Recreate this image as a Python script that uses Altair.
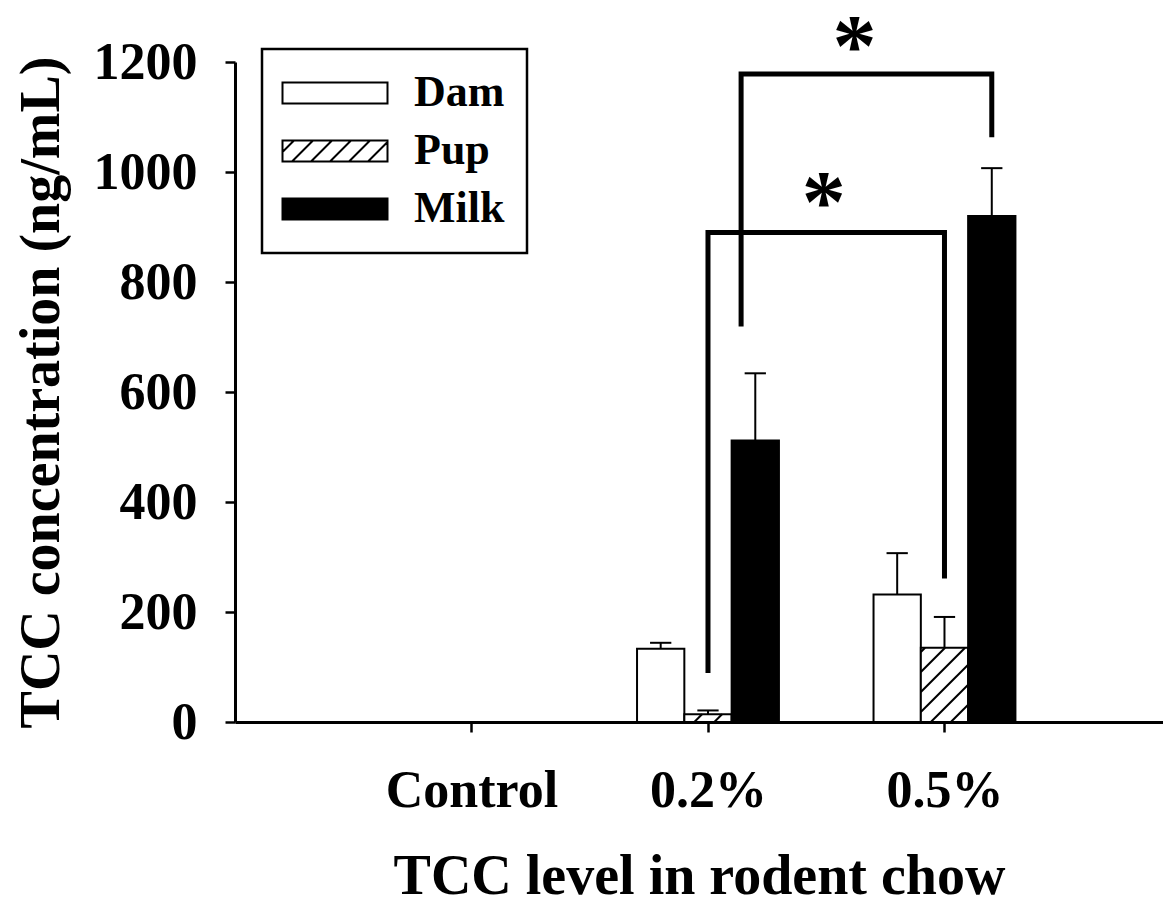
import math
import altair as alt
import pandas as pd

# ---------------- data ----------------
groups = ["Control", "0.2%", "0.5%"]
group_pos = [1, 2, 3]
series = ["Dam", "Pup", "Milk"]
series_offset = [-0.2, 0.0, 0.2]
dam_mean = [0, 133, 232]
dam_err = [0, 11, 75]
pup_mean = [0, 14, 135]
pup_err = [0, 7, 56]
milk_mean = [0, 512, 920]
milk_err = [0, 122, 87]

bracket_id = ["a", "a", "a", "a", "b", "b", "b", "b"]
bracket_order = [0, 1, 2, 3, 0, 1, 2, 3]
bracket_x = [2.0, 2.0, 3.0, 3.0, 2.14, 2.14, 3.2, 3.2]
bracket_y = [89, 890, 890, 261, 719, 1178, 1178, 1063]
star_x = [2.49, 2.62]
star_y = [970, 1252]

# ---------------- layout / style ----------------
W, H = 928, 660
XMAX = 3.924
YMAX = 1200
BAR_W = 0.2
CAP_HALF = 0.045
FONT = "Liberation Serif"
PXX = W / XMAX
PXY = H / YMAX
HATCH_STEP = 20

means = {"Dam": dam_mean, "Pup": pup_mean, "Milk": milk_mean}
errs = {"Dam": dam_err, "Pup": pup_err, "Milk": milk_err}

rows = []
for s, off in zip(series, series_offset):
    for g, p, m, e in zip(groups, group_pos, means[s], errs[s]):
        c = p + off
        rows.append(dict(group=g, series=s, x0=c - BAR_W / 2, x1=c + BAR_W / 2, cx=c,
                         capl=c - CAP_HALF, capr=c + CAP_HALF,
                         base=0, value=m, top=m + e))
df = pd.DataFrame(rows)
df_err = df[df["value"] > 0]


def hatch(w, h, step):
    segs = []
    a = -step * math.ceil(h / step) + step * 0.5
    while a < w:
        xa, xb = max(0.0, a), min(w, a + h)
        if xb > xa:
            segs.append((xa, xa - a, xb, xb - a))
        a += step
    return segs


hrows = []
for _, r in df[(df["series"] == "Pup") & (df["value"] > 0)].iterrows():
    wpx = (r.x1 - r.x0) * PXX
    hpx = r.value * PXY
    for i, (xa, ya, xb, yb) in enumerate(hatch(wpx, hpx, HATCH_STEP)):
        hrows.append(dict(xa=r.x0 + xa / PXX, ya=ya / PXY, xb=r.x0 + xb / PXX, yb=yb / PXY))
df_hatch = pd.DataFrame(hrows)

# legend symbol paths: symbol "size" is the swatch height squared,
# so 1 path unit = half the swatch height
SW, SH = 105, 21
u = SH / 2
hw, hh = SW / 2 / u, 1.0
rect_path = f"M{-hw:.4f},{-hh:.4f}H{hw:.4f}V{hh:.4f}H{-hw:.4f}Z"
hp = []
for xa, ya, xb, yb in hatch(SW, SH, 19):
    hp.append(f"M{xa/u-hw:.4f},{hh - ya/u:.4f}L{xb/u-hw:.4f},{hh - yb/u:.4f}")
hatch_path = rect_path + "".join(hp)

df_br = pd.DataFrame(dict(id=bracket_id, ord=bracket_order, x=bracket_x, y=bracket_y))
df_star = pd.DataFrame(dict(x=star_x, y=star_y))

label_expr = " : ".join(
    f"datum.value == {p} ? '{g}'" for p, g in zip(group_pos, groups)) + " : ''"

xscale = alt.Scale(domain=[0, XMAX], nice=False, zero=False)
yscale = alt.Scale(domain=[0, YMAX], nice=False)

xaxis = alt.Axis(values=group_pos, labelExpr=label_expr, title="TCC level in rodent chow",
                 grid=False, tickSize=10, tickWidth=2.5, domainWidth=3, domainColor="black",
                 tickColor="black", labelFont=FONT, labelFontWeight="bold", labelFontSize=52,
                 labelColor="black", labelPadding=33, titleFont=FONT, titleFontWeight="bold",
                 titleFontSize=56, titleColor="black", titlePadding=33)
yaxis = alt.Axis(values=list(range(0, YMAX + 1, 200)), format="d",
                 title="TCC concentration (ng/mL)",
                 grid=False, tickSize=10, tickWidth=2.5, domainWidth=3, domainColor="black",
                 tickColor="black", labelFont=FONT, labelFontWeight="bold", labelFontSize=52,
                 labelColor="black", labelPadding=28, titleFont=FONT, titleFontWeight="bold",
                 titleFontSize=56, titleColor="black", titlePadding=23)

shape_expr = f"datum.value == 'Pup' ? '{hatch_path}' : '{rect_path}'"

legend = alt.Legend(title=None, orient="none", legendX=27, legendY=-13,
                    symbolType=alt.ExprRef(expr=shape_expr), symbolSize=SH * SH,
                    symbolOffset=29,
                    symbolStrokeColor="black", symbolStrokeWidth=2,
                    labelFont=FONT, labelFontWeight="bold", labelFontSize=44,
                    labelColor="black", labelOffset=57, padding=22, rowPadding=14,
                    strokeColor="black")

bars = alt.Chart(df).mark_rect(stroke="black", strokeWidth=2).encode(
    x=alt.X("x0:Q", scale=xscale, axis=xaxis),
    x2="x1:Q",
    y=alt.Y("base:Q", scale=yscale, axis=yaxis),
    y2="value:Q",
    fill=alt.Fill("series:N", scale=alt.Scale(domain=series, range=["white", "white", "black"]),
                  legend=legend),
)

hatch_layer = alt.Chart(df_hatch).mark_rule(color="black", strokeWidth=2).encode(
    x="xa:Q", y="ya:Q", x2="xb:Q", y2="yb:Q")

err_rule = alt.Chart(df_err).mark_rule(color="black", strokeWidth=2).encode(
    x="cx:Q", y="value:Q", y2="top:Q")
err_cap = alt.Chart(df_err).mark_rule(color="black", strokeWidth=2).encode(
    x="capl:Q", x2="capr:Q", y="top:Q")

brackets = alt.Chart(df_br).mark_line(color="black", strokeWidth=5, strokeJoin="miter",
                                      clip=False).encode(
    x="x:Q", y="y:Q", detail="id:N", order="ord:Q")

stars = alt.Chart(df_star).mark_text(text="*", font=FONT, fontWeight="bold", fontSize=88,
                                     color="black", baseline="middle", dy=16).encode(
    x="x:Q", y="y:Q")

chart = alt.layer(bars, hatch_layer, err_rule, err_cap, brackets, stars).properties(
    width=W, height=H,
    autosize=alt.AutoSizeParams(type="none"),
    padding={"left": 227, "top": 54, "right": 0, "bottom": 200},
).configure_view(stroke=None).configure_legend(strokeWidth=2.5)

chart.save("out.html", embed_options={"renderer": "svg", "actions": False})
